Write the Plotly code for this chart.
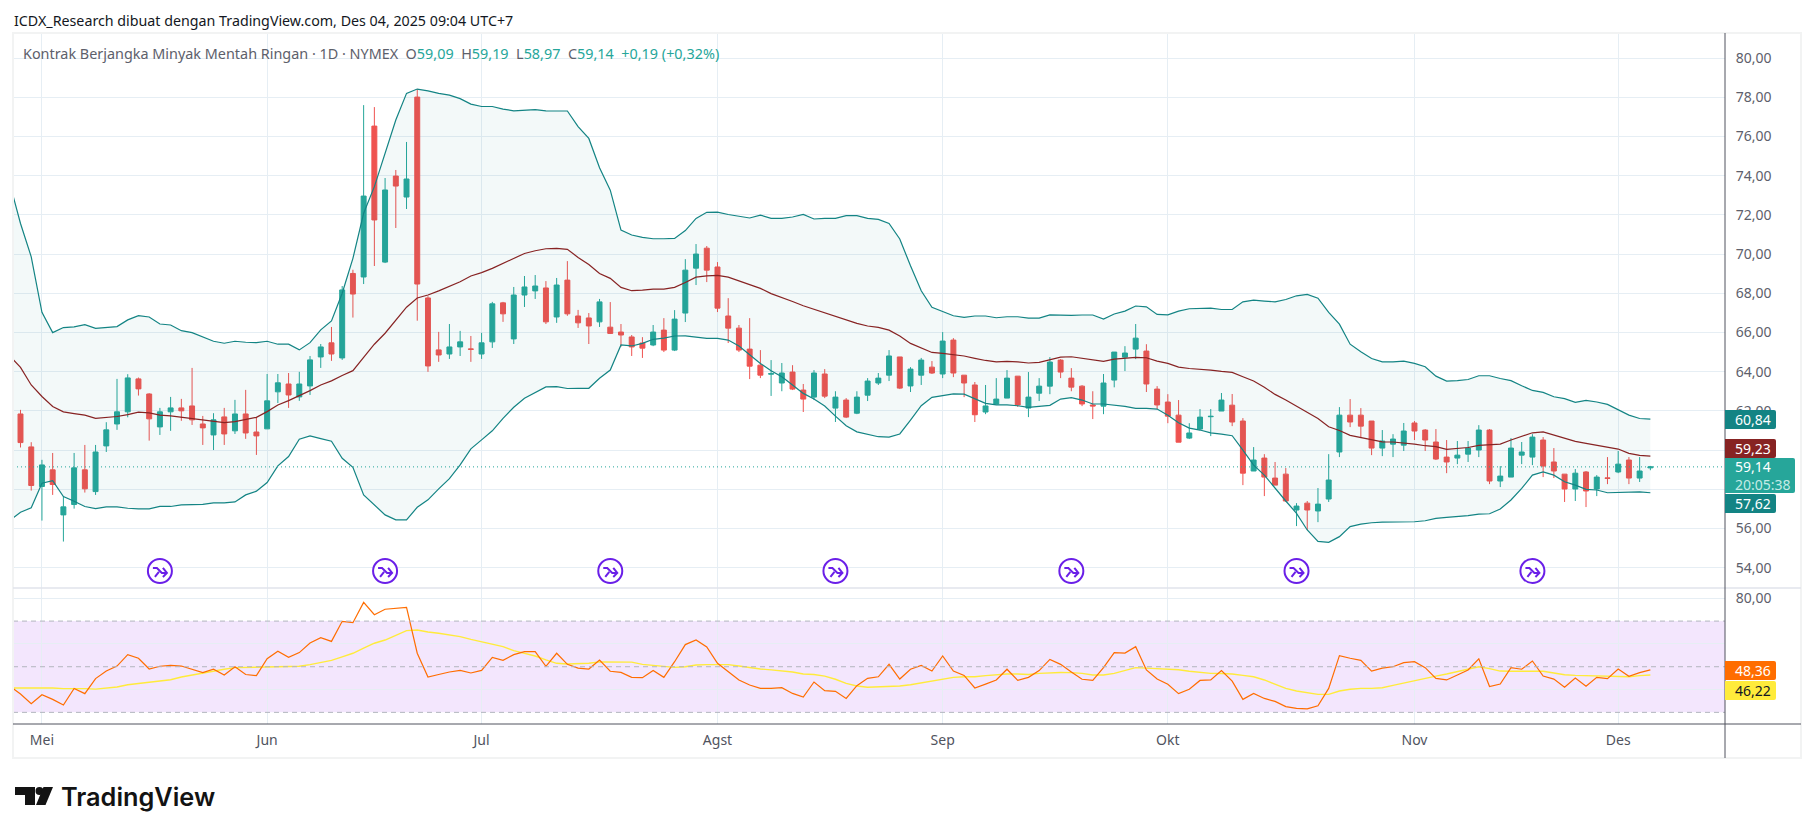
import plotly.graph_objects as go

# Data, first bar is index -3, May 1 is index 0
opens = [63.5, 61.84, 60.16,
    58.14, 58.99, 56.69, 57.22, 58.99, 57.88, 60.21, 61.33, 61.95, 63.63,
    62.86, 61.18, 61.95, 62.15, 62.25, 61.33, 60.77, 61.69, 60.98, 61.84,
    60.92, 61.08, 62.97, 63.37, 62.71, 63.27, 64.75, 65.47, 64.7, 69.01,
    68.83, 76.53, 69.59, 73.98, 72.91, 78.01, 67.76, 65.11, 64.9, 65.26,
    65.16, 64.9, 65.52, 67.51, 65.67, 67.91, 68.12, 68.27, 66.79, 68.67,
    66.84, 66.74, 66.54, 66.27, 66.02, 65.77, 65.46, 65.36, 66.12, 65.1,
    66.99, 69.28, 70.3, 69.34, 66.84, 66.22, 65.15, 64.33, 63.87, 63.42,
    63.98, 63.06, 62.7, 63.88, 62.14, 62.55, 61.88, 62.8, 63.42, 63.82,
    64.75, 63.27, 63.82, 64.23, 63.88, 65.61, 63.82, 63.32, 61.94, 62.35,
    62.65, 63.77, 62.14, 62.9, 63.26, 64.59, 63.67, 63.26, 62.3, 62.24,
    63.57, 64.74, 65.15, 65.05, 63.11, 62.45, 61.78, 60.61, 61.07, 61.7,
    61.99, 62.29, 61.48, 58.93, 59.59, 58.57, 58.77, 56.94, 57.29, 56.89,
    57.5, 59.9, 61.78, 61.78, 61.48, 60.1, 60.3, 60.25, 61.38, 61.02,
    60.41, 59.64, 59.59, 59.79, 60.0, 61.02, 58.42, 58.62, 59.74, 59.64,
    60.51, 59.39, 58.77, 58.01, 58.88, 58.01, 58.58, 58.88, 59.49, 58.57, 59.09]
highs = [63.5, 62.05, 60.4,
    59.5, 59.85, 57.63, 59.85, 60.26, 60.26, 61.42, 63.63, 63.87, 63.7,
    62.9, 62.15, 62.71, 62.61, 64.19, 61.74, 61.88, 62.15, 62.56, 63.07,
    61.69, 63.88, 63.88, 63.93, 63.99, 64.8, 65.41, 66.28, 68.37, 69.2,
    77.6, 77.5, 73.88, 74.29, 75.72, 78.42, 67.85, 66.03, 66.43, 66.08,
    65.82, 65.98, 67.56, 67.56, 68.32, 68.88, 68.93, 68.62, 68.78, 69.64,
    67.15, 66.99, 67.71, 67.55, 66.43, 65.87, 65.76, 66.38, 66.73, 67.14,
    69.74, 70.51, 70.41, 69.59, 67.75, 66.38, 66.73, 65.1, 64.59, 64.44,
    64.33, 63.37, 64.08, 64.13, 63.0, 62.65, 63.0, 63.67, 63.93, 65.1,
    64.75, 64.23, 64.7, 64.54, 66.02, 65.71, 63.82, 63.47, 63.32, 63.67,
    64.08, 63.77, 63.98, 63.67, 64.74, 64.64, 64.18, 63.31, 63.0, 63.88,
    65.0, 65.3, 66.43, 65.4, 63.26, 62.85, 62.55, 61.37, 62.09, 62.09,
    62.91, 62.86, 61.63, 60.15, 59.79, 59.39, 59.08, 57.29, 57.4, 58.06,
    59.79, 62.19, 62.6, 62.14, 61.48, 61.02, 60.81, 61.38, 61.48, 61.07,
    61.07, 60.51, 60.46, 60.46, 61.27, 61.07, 59.18, 60.61, 60.41, 60.81,
    60.66, 60.1, 58.77, 59.03, 58.93, 58.72, 59.64, 59.95, 59.64, 59.64, 59.19]
lows = [62.0, 60.13, 57.93,
    56.4, 57.71, 55.33, 57.01, 57.83, 57.71, 59.9, 61.03, 61.67, 62.78,
    60.48, 60.77, 60.98, 61.49, 61.28, 60.26, 60.0, 60.26, 60.82, 60.57,
    59.75, 61.08, 62.4, 62.15, 62.51, 62.81, 64.19, 64.55, 64.6, 66.76,
    68.47, 69.39, 69.54, 71.33, 72.3, 66.6, 63.99, 64.5, 64.65, 64.8,
    64.5, 64.65, 65.21, 66.54, 65.41, 67.3, 67.71, 66.43, 66.49, 66.85,
    66.23, 65.41, 66.28, 65.92, 65.27, 64.8, 64.7, 65.3, 65.0, 65.05,
    66.53, 68.42, 68.57, 67.04, 65.46, 65.0, 63.62, 63.67, 62.76, 63.0,
    63.06, 61.94, 62.55, 62.65, 61.43, 61.63, 61.83, 62.5, 63.32, 63.52,
    63.11, 62.96, 63.32, 63.88, 63.67, 63.72, 62.7, 61.43, 61.83, 62.35,
    62.65, 62.2, 61.68, 62.5, 62.85, 63.67, 63.0, 62.24, 61.58, 61.83,
    63.2, 64.03, 64.64, 62.96, 62.09, 61.37, 60.4, 60.56, 61.02, 60.71,
    61.99, 61.22, 58.21, 58.93, 57.65, 58.21, 57.35, 56.12, 55.92, 56.32,
    57.35, 59.64, 61.17, 60.61, 59.74, 59.69, 59.64, 59.95, 60.51, 59.95,
    59.49, 58.82, 59.28, 59.39, 59.64, 58.26, 58.11, 58.62, 59.28, 59.23,
    58.62, 58.57, 57.35, 57.4, 57.09, 57.65, 58.26, 58.82, 58.26, 58.37, 58.97]
closes = [62.0, 60.38, 58.19,
    59.24, 58.24, 57.1, 59.09, 58.02, 59.9, 61.03, 61.95, 63.68, 63.12,
    61.59, 61.95, 62.15, 62.0, 61.54, 61.13, 61.54, 60.82, 61.84, 60.87,
    60.72, 62.51, 63.43, 62.81, 63.37, 64.6, 65.26, 64.9, 68.17, 67.96,
    72.96, 71.74, 73.27, 73.47, 73.83, 68.47, 64.29, 64.85, 65.26, 65.52,
    65.14, 65.47, 67.46, 66.95, 67.91, 68.32, 68.37, 66.54, 68.42, 66.95,
    66.49, 66.33, 67.56, 65.95, 65.87, 65.26, 65.2, 66.02, 65.1, 66.68,
    69.18, 70.0, 69.18, 67.24, 66.22, 65.1, 64.28, 63.82, 63.9, 63.93,
    63.11, 62.6, 63.93, 62.75, 62.7, 61.68, 62.7, 63.52, 63.67, 64.8,
    63.16, 64.13, 64.59, 63.93, 65.56, 63.93, 63.42, 61.8, 62.25, 62.6,
    63.67, 62.3, 62.7, 63.26, 64.49, 63.98, 63.21, 62.35, 62.25, 63.42,
    65.0, 64.95, 65.71, 63.37, 62.3, 61.73, 60.4, 60.87, 61.68, 61.72,
    62.55, 61.43, 58.82, 59.49, 58.62, 58.21, 57.4, 57.14, 56.94, 57.24,
    58.47, 61.78, 61.43, 61.22, 60.1, 60.46, 60.56, 60.97, 60.97, 60.51,
    59.54, 59.39, 59.74, 60.1, 61.02, 58.42, 58.67, 60.1, 59.9, 60.66,
    59.18, 58.93, 58.01, 58.82, 57.91, 58.62, 58.55, 59.28, 58.57, 58.93, 59.14]

bb_upper = [73.6, 71.56, 69.86,
    67.03, 65.99, 66.25, 66.28, 66.4, 66.21, 66.25, 66.3, 66.64, 66.86,
    66.79, 66.43, 66.38, 66.09, 65.99, 65.79, 65.55, 65.45, 65.55, 65.5,
    65.48, 65.55, 65.4, 65.4, 65.11, 65.48, 66.13, 66.59, 68.0, 69.78,
    72.08, 73.44, 75.14, 76.84, 78.2, 78.42, 78.33, 78.2, 78.11, 77.93,
    77.65, 77.53, 77.53, 77.4, 77.31, 77.33, 77.37, 77.31, 77.31, 77.3,
    76.5, 75.9, 74.4, 73.26, 71.22, 70.97, 70.85, 70.78, 70.78, 70.8,
    71.2, 71.82, 72.13, 72.14, 72.02, 71.92, 71.84, 71.99, 71.82, 71.82,
    71.89, 72.02, 71.79, 71.82, 71.82, 71.96, 71.96, 71.82, 71.77, 71.56,
    70.77, 69.4, 68.13, 67.28, 67.06, 66.85, 66.77, 66.84, 66.84, 66.75,
    66.8, 66.8, 66.73, 66.73, 66.9, 66.87, 66.87, 66.89, 66.89, 66.68,
    66.94, 67.09, 67.35, 67.31, 66.92, 66.9, 67.09, 67.21, 67.22, 67.24,
    67.17, 67.17, 67.56, 67.65, 67.6, 67.56, 67.68, 67.87, 67.94, 67.75,
    67.02, 66.42, 65.4, 65.01, 64.67, 64.5, 64.5, 64.54, 64.42, 64.25,
    63.77, 63.52, 63.54, 63.6, 63.79, 63.79, 63.65, 63.54, 63.28, 63.04,
    62.94, 62.72, 62.62, 62.43, 62.53, 62.45, 62.33, 62.07, 61.78, 61.61, 61.58]
bb_basis = [64.8, 64.22, 63.32,
    62.73, 62.22, 61.95, 61.86, 61.78, 61.62, 61.67, 61.71, 61.81, 61.93,
    61.9, 61.78, 61.74, 61.67, 61.62, 61.54, 61.45, 61.4, 61.45, 61.57,
    61.67, 61.96, 62.3, 62.52, 62.76, 63.03, 63.32, 63.53, 63.8, 64.05,
    64.73, 65.4, 65.96, 66.64, 67.29, 67.76, 67.91, 68.12, 68.34, 68.59,
    68.88, 69.05, 69.27, 69.53, 69.78, 70.03, 70.17, 70.27, 70.29, 70.24,
    69.83, 69.47, 69.01, 68.76, 68.3, 68.13, 68.16, 68.21, 68.21, 68.3,
    68.55, 68.82, 68.89, 68.91, 68.82, 68.62, 68.42, 68.25, 67.98, 67.79,
    67.58, 67.36, 67.18, 66.99, 66.8, 66.62, 66.46, 66.33, 66.26, 66.12,
    65.82, 65.44, 65.19, 64.98, 64.93, 64.88, 64.8, 64.68, 64.57, 64.5,
    64.52, 64.5, 64.44, 64.47, 64.59, 64.74, 64.76, 64.68, 64.59, 64.52,
    64.64, 64.69, 64.73, 64.71, 64.54, 64.42, 64.23, 64.16, 64.13, 64.08,
    64.01, 63.96, 63.74, 63.52, 63.2, 62.84, 62.55, 62.24, 61.95, 61.61,
    61.19, 61.0, 60.75, 60.64, 60.51, 60.42, 60.41, 60.36, 60.3, 60.22,
    60.17, 60.03, 60.07, 60.13, 60.24, 60.27, 60.3, 60.51, 60.68, 60.88,
    60.93, 60.76, 60.58, 60.44, 60.34, 60.25, 60.15, 60.05, 59.83, 59.73, 59.69]
bb_lower = [56.4, 56.83, 57.05,
    58.31, 58.44, 57.63, 57.39, 57.12, 57.01, 57.1, 57.1, 57.03, 57.0,
    57.0, 57.12, 57.12, 57.2, 57.22, 57.23, 57.3, 57.3, 57.35, 57.71,
    57.9, 58.34, 59.19, 59.67, 60.55, 60.72, 60.58, 60.45, 59.58, 59.12,
    57.71, 57.2, 56.69, 56.44, 56.44, 57.08, 57.46, 58.02, 58.54, 59.24,
    60.06, 60.52, 60.98, 61.62, 62.18, 62.64, 62.93, 63.22, 63.24, 63.14,
    63.15, 63.15, 63.66, 64.08, 65.36, 65.31, 65.44, 65.65, 65.71, 65.82,
    65.83, 65.78, 65.7, 65.7, 65.61, 65.31, 64.85, 64.42, 64.05, 63.74,
    63.32, 62.89, 62.6, 62.25, 61.73, 61.24, 60.93, 60.8, 60.68, 60.66,
    60.82, 61.53, 62.26, 62.69, 62.79, 62.87, 62.85, 62.6, 62.38, 62.3,
    62.3, 62.26, 62.18, 62.23, 62.28, 62.6, 62.67, 62.55, 62.35, 62.35,
    62.3, 62.23, 62.13, 62.13, 62.09, 61.78, 61.39, 61.12, 61.02, 60.88,
    60.81, 60.73, 60.0, 59.23, 58.72, 58.04, 57.4, 56.77, 55.92, 55.34,
    55.29, 55.58, 56.09, 56.22, 56.29, 56.32, 56.32, 56.32, 56.34, 56.39,
    56.51, 56.56, 56.6, 56.65, 56.73, 56.75, 56.99, 57.45, 58.04, 58.72,
    58.88, 58.72, 58.38, 58.21, 57.99, 57.96, 57.82, 57.84, 57.86, 57.86, 57.82]

rsi = [41.5, 38.04, 33.8,
    37.75, 35.7, 33.2, 40.5, 38.2, 44.8, 48.1, 50.3, 55.3, 53.7,
    49.0, 50.2, 50.6, 50.3, 48.7, 47.4, 48.9, 46.4, 50.0, 46.6,
    46.1, 53.5, 56.75, 54.1, 56.2, 60.4, 62.75, 61.1, 69.9, 69.3,
    78.2, 72.8, 75.2, 75.6, 76.05, 55.9, 45.5, 46.6, 47.7, 48.4,
    47.25, 48.4, 54.1, 52.8, 55.3, 56.6, 56.6, 50.2, 55.9, 51.05,
    49.4, 49.0, 52.9, 48.0, 47.5, 45.35, 45.2, 48.4, 45.35, 52.2,
    59.7, 61.7, 58.65, 51.5, 47.8, 44.2, 42.0, 40.5, 40.5, 40.8,
    38.3, 36.7, 43.3, 39.5, 39.2, 36.1, 41.7, 44.9, 45.6, 51.05,
    44.6, 48.9, 50.6, 48.1, 54.7, 48.1, 46.2, 40.7, 42.4, 44.2,
    48.9, 44.0, 45.35, 48.3, 53.2, 51.05, 47.7, 44.5, 44.0, 49.6,
    56.2, 56.0, 58.8, 48.6, 44.6, 42.3, 38.2, 40.1, 44.0, 44.2,
    48.3, 43.7, 35.7, 38.3, 36.1, 34.8, 32.5, 31.75, 31.5, 32.9,
    40.5, 54.85, 53.7, 52.8, 48.1, 49.4, 50.0, 51.8, 52.2, 49.6,
    44.9, 44.2, 46.4, 48.6, 53.5, 41.3, 42.4, 49.6, 48.9, 52.5,
    45.9, 44.6, 41.0, 45.05, 41.5, 45.35, 44.8, 49.0, 45.8, 47.4, 48.6]
rsi_ma = [40.7, 40.7, 40.5,
    40.8, 40.7, 40.4, 40.5, 40.4, 40.2, 40.7, 41.1, 42.1, 42.7,
    43.0, 43.6, 44.3, 45.5, 46.4, 47.25, 48.3, 48.9, 49.6, 49.7,
    49.6, 49.9, 49.9, 49.9, 50.2, 50.9, 52.0, 52.8, 54.3, 55.9,
    58.1, 60.3, 61.7, 63.9, 65.8, 66.1, 65.2, 64.65, 64.0, 63.2,
    62.0, 61.0, 60.0, 58.8, 57.05, 55.9, 54.7, 53.0, 51.5, 51.2,
    51.35, 51.5, 52.1, 52.1, 52.0, 52.0, 51.05, 50.6, 50.0, 49.7,
    50.0, 50.75, 50.9, 50.9, 50.9, 50.3, 49.6, 49.0, 48.6, 48.3,
    47.7, 46.8, 46.6, 45.9, 44.5, 42.7, 41.55, 41.0, 41.1, 41.4,
    41.55, 42.1, 42.9, 43.45, 44.5, 45.35, 45.6, 45.6, 46.1, 46.5,
    46.8, 46.8, 46.6, 47.1, 47.4, 47.5, 47.4, 47.1, 46.4, 46.4,
    47.1, 48.3, 49.6, 49.4, 49.15, 49.15, 48.7, 48.0, 47.4, 47.1,
    47.0, 46.8, 46.2, 45.6, 44.2, 42.4, 40.5, 39.35, 38.5, 37.9,
    37.9, 39.35, 40.1, 40.5, 40.5, 40.8, 41.8, 42.9, 44.0, 45.05,
    45.9, 46.8, 47.8, 48.9, 50.0, 49.15, 48.1, 48.0, 48.1, 48.1,
    48.0, 47.25, 46.5, 46.2, 46.1, 46.1, 46.1, 45.9, 45.6, 46.1, 46.4]

bars = list(range(-3, len(opens) - 3))

month_bars = [0, 21, 41, 63, 84, 105, 128, 147]
month_labels = ["Mei", "Jun", "Jul", "Agst", "Sep", "Okt", "Nov", "Des"]
price_ticks = [54, 56, 58, 60, 62, 64, 66, 68, 70, 72, 74, 76, 78, 80]
rsi_ticks = [40, 60, 80]
# these tick labels sit fully behind the value tags, only their grid lines show
hidden_ticks = [40, 58, 60]
event_bars = [11, 32, 53, 74, 96, 117, 139]
event_price = 53.83
last_price = closes[-1]


def comma(v):
    return f"{v:.2f}".replace(".", ",")


def tick_text(ticks):
    return ["" if v in hidden_ticks else comma(v) for v in ticks]


# Pixel layout of the TradingView snapshot
LEFT, RIGHT, TOP, SPLIT, BOTTOM, FRAME_R, FRAME_B = 13, 1725, 33, 588, 724, 1801, 758
W, H = 1814, 834
FONT = "Noto Sans"
UP, DOWN = "#26a69a", "#ef5350"
BAND, BASIS = "#138484", "#872323"
GRID = "#e6eef4"
PURPLE = "#6a1fe8"


def px(x):
    return (x - LEFT) / (RIGHT - LEFT)


def py(y):
    return (BOTTOM - y) / (BOTTOM - TOP)


fig = go.Figure()

fig.add_trace(go.Candlestick(
    x=bars, open=opens, high=highs, low=lows, close=closes,
    increasing=dict(line=dict(color=UP, width=1), fillcolor=UP),
    decreasing=dict(line=dict(color=DOWN, width=1), fillcolor=DOWN),
    whiskerwidth=0, xaxis="x", yaxis="y", showlegend=False,
))
fig.add_trace(go.Scatter(x=bars, y=bb_lower, mode="lines", line=dict(color=BAND, width=1.2),
                         xaxis="x", yaxis="y", showlegend=False))
fig.add_trace(go.Scatter(x=bars, y=bb_upper, mode="lines", line=dict(color=BAND, width=1.2),
                         fill="tonexty", fillcolor="rgba(19,132,132,0.05)",
                         xaxis="x", yaxis="y", showlegend=False))
fig.add_trace(go.Scatter(x=bars, y=bb_basis, mode="lines", line=dict(color=BASIS, width=1.2),
                         xaxis="x", yaxis="y", showlegend=False))

fig.add_trace(go.Scatter(x=bars, y=rsi_ma, mode="lines", line=dict(color="#ffeb3b", width=1.4),
                         xaxis="x2", yaxis="y2", showlegend=False))
fig.add_trace(go.Scatter(x=bars, y=rsi, mode="lines", line=dict(color="#ff6d00", width=1.2),
                         xaxis="x2", yaxis="y2", showlegend=False))

shapes = []
annotations = []

# RSI band and its dashed levels
shapes.append(dict(type="rect", xref="x domain", yref="y2", x0=0, x1=1, y0=30, y1=70,
                   fillcolor="rgba(160,50,240,0.12)", line_width=0, layer="below"))
for level in [30, 50, 70]:
    shapes.append(dict(type="line", xref="x domain", yref="y2", x0=0, x1=1, y0=level, y1=level,
                       line=dict(color="#b2b5be", width=1, dash="5px,4px")))

# last price line
shapes.append(dict(type="line", xref="x domain", yref="y", x0=0, x1=1, y0=last_price, y1=last_price,
                   line=dict(color=UP, width=1, dash="1px,3px")))

# frame, pane separator and axis lines
shapes.append(dict(type="rect", xref="paper", yref="paper", x0=px(LEFT), x1=px(FRAME_R),
                   y0=py(FRAME_B), y1=py(TOP), line=dict(color="#f2f3f3", width=2)))
shapes.append(dict(type="line", xref="paper", yref="paper", x0=px(LEFT), x1=px(FRAME_R),
                   y0=py(SPLIT), y1=py(SPLIT), line=dict(color="#e0e3eb", width=1.5)))
shapes.append(dict(type="line", xref="paper", yref="paper", x0=px(LEFT), x1=px(FRAME_R),
                   y0=py(BOTTOM), y1=py(BOTTOM), line=dict(color="#50535e", width=1)))
shapes.append(dict(type="line", xref="paper", yref="paper", x0=px(RIGHT), x1=px(RIGHT),
                   y0=py(FRAME_B), y1=py(TOP), line=dict(color="#50535e", width=1)))

# event icons, drawn in pixels around the bar they belong to
for b in event_bars:
    common = dict(xref="x", yref="y", xsizemode="pixel", ysizemode="pixel", xanchor=b, yanchor=event_price)
    shapes.append(dict(type="circle", x0=-12, x1=12, y0=-12, y1=12,
                       line=dict(color=PURPLE, width=2), fillcolor="white", **common))
    shapes.append(dict(type="path", path="M -7,3 L -3,3 L 2,-2 L 7,-2 M 3,3 L 7,-2 L 3,-6 M -5,-6 L -1,-1",
                       line=dict(color=PURPLE, width=2), **common))


def label_box(y0, y1, x1, color, lines):
    # value tag on the price axis with rounded right corners
    r = 2
    path = (f"M {px(RIGHT)},{py(y0)} L {px(x1 - r)},{py(y0)} Q {px(x1)},{py(y0)} {px(x1)},{py(y0 + r)} "
            f"L {px(x1)},{py(y1 - r)} Q {px(x1)},{py(y1)} {px(x1 - r)},{py(y1)} L {px(RIGHT)},{py(y1)} Z")
    shapes.append(dict(type="path", xref="paper", yref="paper", path=path, fillcolor=color, line_width=0))
    step = (y1 - y0) / len(lines)
    for n, (text, text_color) in enumerate(lines):
        annotations.append(dict(xref="paper", yref="paper", x=px(RIGHT + 8), y=py(y0 + step * (n + 0.5)),
                                text=text, showarrow=False, xanchor="left", yanchor="middle",
                                font=dict(family=FONT, size=14, color=text_color)))


label_box(410, 429, 1776, BAND, [("60,84", "#ffffff")])
label_box(439, 458, 1776, BASIS, [("59,23", "#ffffff")])
label_box(458, 493, 1795, UP, [(comma(last_price), "#ffffff"), ("20:05:38", "#c4ebe6")])
label_box(494, 513, 1776, BAND, [("57,62", "#ffffff")])
label_box(661, 680, 1776, "#ff6d00", [("48,36", "#ffffff")])
label_box(681, 700, 1776, "#ffeb3b", [("46,22", "#131722")])

# header texts
annotations.append(dict(xref="paper", yref="paper", x=px(12), y=py(20), showarrow=False,
                        xanchor="left", yanchor="middle",
                        text="ICDX_Research dibuat dengan TradingView.com, Des 04, 2025 09:04 UTC+7",
                        font=dict(family=FONT, size=14.25, color="#131722")))
GREY = "#5d606b"
def tv(v):
    return f'<span style="color:{UP}">{v}</span>'
legend_text = ("Kontrak Berjangka Minyak Mentah Ringan · 1D · NYMEX&nbsp;&nbsp;"
               f"O{tv('59,09')}&nbsp;&nbsp;H{tv('59,19')}&nbsp;&nbsp;L{tv('58,97')}&nbsp;&nbsp;"
               f"C{tv('59,14')}&nbsp;&nbsp;{tv('+0,19 (+0,32%)')}")
annotations.append(dict(xref="paper", yref="paper", x=px(21), y=py(53), showarrow=False,
                        xanchor="left", yanchor="middle", text=legend_text,
                        font=dict(family=FONT, size=14.4, color=GREY)))

# TradingView logo
def poly(points):
    return "M " + " L ".join(f"{px(x)},{py(y)}" for x, y in points) + " Z"


shapes.append(dict(type="path", xref="paper", yref="paper", fillcolor="#131313", line_width=0,
                   path=poly([(15, 787), (35, 787), (35, 805), (25, 805), (25, 795), (15, 795)])))
shapes.append(dict(type="circle", xref="paper", yref="paper", fillcolor="#131313", line_width=0,
                   x0=px(35.5), x1=px(43.5), y0=py(795), y1=py(787)))
shapes.append(dict(type="path", xref="paper", yref="paper", fillcolor="#131313", line_width=0,
                   path=poly([(43.5, 787), (53, 787), (45.5, 805), (36, 805)])))
annotations.append(dict(xref="paper", yref="paper", x=px(59), y=py(796), showarrow=False,
                        xanchor="left", yanchor="middle", text="TradingView",
                        font=dict(family="Inter", size=25.3, color="#131313", weight=600)))

x_range = [-2.7, 156.96]
x_common = dict(range=x_range, tickmode="array", tickvals=month_bars, showgrid=True,
                gridcolor=GRID, gridwidth=1, zeroline=False, showline=False)

fig.update_layout(
    width=W, height=H,
    margin=dict(l=LEFT, r=W - RIGHT, t=TOP, b=H - BOTTOM, pad=0),
    paper_bgcolor="white", plot_bgcolor="white",
    font=dict(family=FONT, size=14, color="#50535e"),
    showlegend=False, boxgap=0.34, hovermode=False,
    xaxis=dict(domain=[0, 1], anchor="y", showticklabels=False, ticks="",
               rangeslider=dict(visible=False), **x_common),
    xaxis2=dict(domain=[0, 1], anchor="y2", ticktext=month_labels, ticks="outside", ticklen=3,
                tickcolor="rgba(0,0,0,0)", tickfont=dict(family=FONT, size=14, color="#50535e"), **x_common),
    yaxis=dict(domain=[py(SPLIT), 1], anchor="x", side="right", range=[52.96, 81.28],
               tickmode="array", tickvals=price_ticks, ticktext=tick_text(price_ticks),
               showgrid=True, gridcolor=GRID, gridwidth=1, zeroline=False, showline=False,
               ticks="outside", ticklen=7, tickcolor="rgba(0,0,0,0)",
               tickfont=dict(family=FONT, size=14, color="#5d606b")),
    yaxis2=dict(domain=[0, py(SPLIT)], anchor="x2", side="right", range=[24.9, 84.5],
                tickmode="array", tickvals=rsi_ticks, ticktext=tick_text(rsi_ticks),
                showgrid=True, gridcolor=GRID, gridwidth=1, zeroline=False, showline=False,
                ticks="outside", ticklen=7, tickcolor="rgba(0,0,0,0)",
                tickfont=dict(family=FONT, size=14, color="#5d606b")),
    shapes=shapes, annotations=annotations,
)

fig.write_html("out.html", config=dict(displayModeBar=False),
               post_script="document.body.style.margin='0';")
